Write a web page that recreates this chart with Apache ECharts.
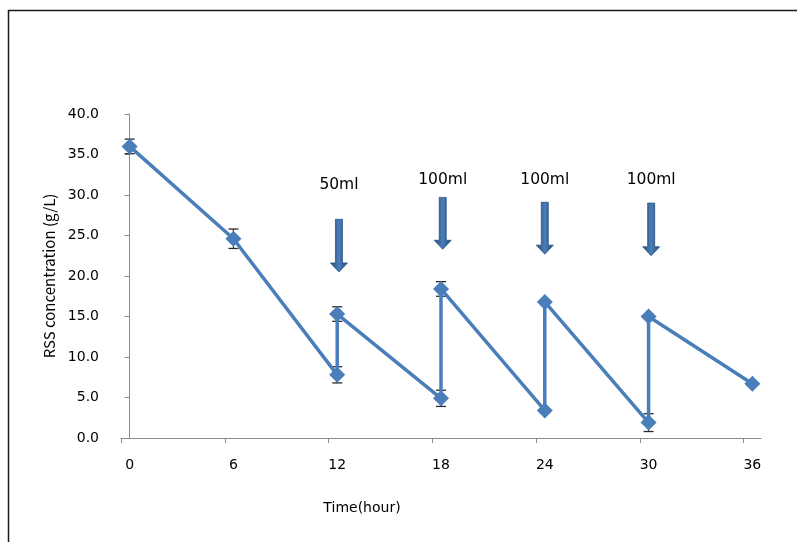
<!DOCTYPE html>
<html>
<head>
<meta charset="utf-8">
<script src="https://cdn.jsdelivr.net/npm/echarts@6/dist/echarts.min.js"></script>
<style>
html,body{margin:0;padding:0;background:#fff;}
#c{width:797px;height:542px;}
</style>
</head>
<body>
<div id="c"></div>
<script>
// ---- data ----
const timeH = [0, 6, 12, 12, 18, 18, 24, 24, 30, 30, 36];
const rss = [36.0, 24.6, 7.8, 15.3, 4.9, 18.4, 3.4, 16.8, 1.9, 15.0, 6.7];
const rssErr = [0.9, 1.2, 1.0, 0.9, 1.0, 0.9, 0.2, 0.2, 1.1, 0.2, 0.2];
const xTicks = [0, 6, 12, 18, 24, 30, 36];
const yTicks = [0, 5, 10, 15, 20, 25, 30, 35, 40];
// feed annotations
const feedLabels = ['50ml', '100ml', '100ml', '100ml'];
const feedTime = [12.1, 18.1, 24.0, 30.15];
const feedArrowTop = [27.0, 29.7, 29.1, 29.0];
const feedArrowTip = [20.5, 23.3, 22.7, 22.5];
const feedLabelY = [31.2, 31.8, 31.8, 31.9];

const FONT_N = '"Noto Sans CJK KR", "Noto Sans", sans-serif';
const FONT_W = '"DejaVu Sans", sans-serif';
const chart = echarts.init(document.getElementById('c'), null, {renderer: 'canvas'});

const option = {
  animation: false,
  backgroundColor: '#fff',
  graphic: [{
    type: 'rect', left: 6, top: 8, silent: true,
    shape: {width: 800, height: 540},
    style: {fill: 'none', stroke: '#1a1a1a', lineWidth: 1.5}
  }],
  grid: {left: 121, right: 36, top: 114, bottom: 104},
  xAxis: {
    type: 'value', min: -0.5, max: 36.5,
    name: 'Time(hour)', nameLocation: 'middle', nameGap: 63,
    nameTextStyle: {fontFamily: FONT_W, fontSize: 14, color: '#000', padding: [0, 158, 0, 0]},
    axisLine: {show: true, lineStyle: {color: '#8c8c8c', width: 1}},
    axisTick: {show: true, length: 5, lineStyle: {color: '#8c8c8c'}, customValues: xTicks.map(v => v - 0.5)},
    axisLabel: {customValues: xTicks, margin: 20, fontFamily: FONT_W, fontSize: 14, color: '#000'},
    splitLine: {show: false}
  },
  yAxis: {
    type: 'value', min: 0, max: 40, interval: 5,
    name: 'RSS concentration (g/L)', nameLocation: 'middle', nameGap: 64,
    nameTextStyle: {fontFamily: FONT_N, fontSize: 15, color: '#000'},
    axisLine: {show: true, lineStyle: {color: '#8c8c8c', width: 1}},
    axisTick: {show: true, length: 5, lineStyle: {color: '#8c8c8c'}},
    axisLabel: {margin: 22, fontFamily: FONT_W, fontSize: 14, color: '#000',
      customValues: yTicks, formatter: v => v.toFixed(1)},
    splitLine: {show: false}
  },
  series: [
    {
      type: 'custom',
      data: timeH.map((t, i) => [t, rss[i], rssErr[i]]),
      z: 1,
      renderItem: function (params, api) {
        const x = api.value(0), y = api.value(1), e = api.value(2);
        const top = api.coord([x, y + e]);
        const bot = api.coord([x, y - e]);
        const w = 5;
        return {
          type: 'group',
          children: [
            {type: 'line', shape: {x1: top[0], y1: top[1], x2: bot[0], y2: bot[1]}, style: {stroke: '#333', lineWidth: 1.2}},
            {type: 'line', shape: {x1: top[0] - w, y1: top[1], x2: top[0] + w, y2: top[1]}, style: {stroke: '#2a2a2a', lineWidth: 1.3}},
            {type: 'line', shape: {x1: bot[0] - w, y1: bot[1], x2: bot[0] + w, y2: bot[1]}, style: {stroke: '#2a2a2a', lineWidth: 1.3}}
          ]
        };
      }
    },
    {
      type: 'line',
      data: timeH.map((t, i) => [t, rss[i]]),
      symbol: 'diamond', symbolSize: 16,
      lineStyle: {color: '#4a7ebb', width: 3.5},
      itemStyle: {color: '#4a7ebb'},
      z: 2
    },
    {
      type: 'custom',
      data: feedTime.map((t, i) => [t, feedArrowTop[i], feedArrowTip[i], feedLabelY[i]]),
      z: 4,
      renderItem: function (params, api) {
        const x = api.value(0);
        const top = api.coord([x, api.value(1)]);
        const tip = api.coord([x, api.value(2)]);
        const lab = api.coord([x, api.value(3)]);
        const cx = top[0];
        const sw = 3.5, hw = 8.5, hh = 9;
        const hy = tip[1] - hh;
        const grad = new echarts.graphic.LinearGradient(0, 0, 1, 0, [
          {offset: 0, color: '#23466f'},
          {offset: 0.5, color: '#4a7ebb'},
          {offset: 1, color: '#23466f'}
        ]);
        return {
          type: 'group',
          children: [
            {type: 'polygon', shape: {points: [
              [cx - sw, top[1]], [cx + sw, top[1]], [cx + sw, hy], [cx + hw, hy],
              [cx, tip[1]], [cx - hw, hy], [cx - sw, hy]
            ]}, style: {fill: grad, stroke: '#2c5485', lineWidth: 0.8}},
            {type: 'text', x: lab[0], y: lab[1], style: {
              text: feedLabels[params.dataIndex], fontFamily: FONT_W, fontSize: 15.5,
              fill: '#000', align: 'center', verticalAlign: 'middle'}}
          ]
        };
      }
    }
  ]
};
chart.setOption(option);
</script>
</body>
</html>
